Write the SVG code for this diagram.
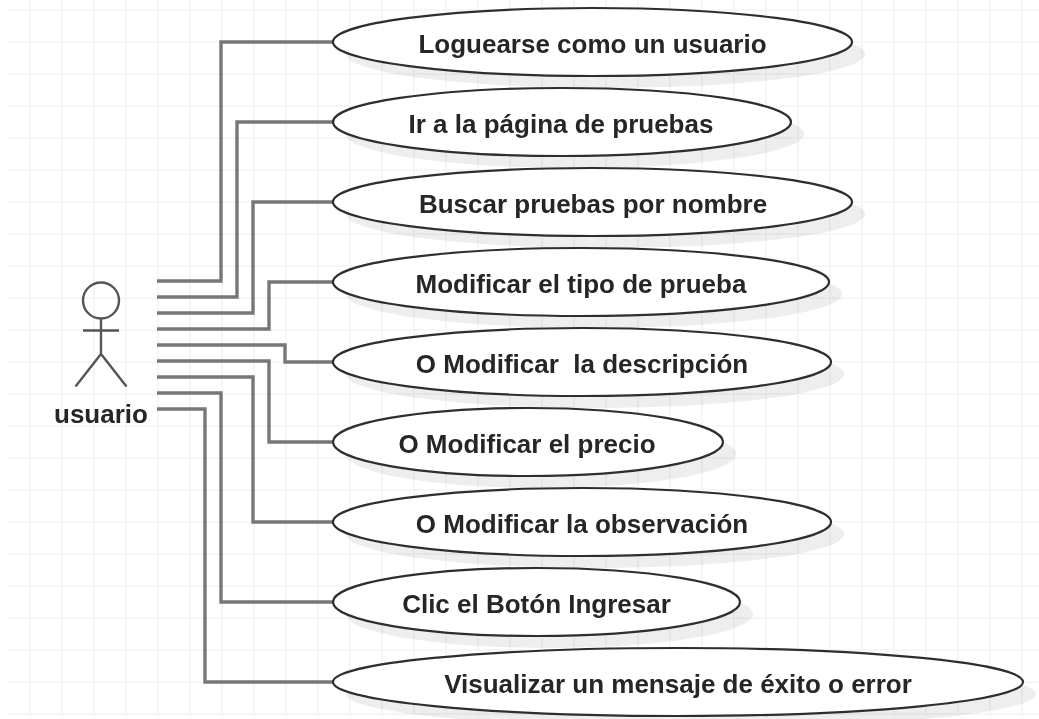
<svg xmlns="http://www.w3.org/2000/svg" width="1039" height="719" viewBox="0 0 1039 719">
<style>
.grid{stroke:#f6f6f6;stroke-width:2;fill:none}
.c{fill:none;stroke:#777777;stroke-width:3.4;stroke-linejoin:miter}
.s{fill:#000000;fill-opacity:.065;stroke:none}
.e{fill:#ffffff;stroke:#2e2e2e;stroke-width:2.2}
.a{fill:none;stroke:#555555;stroke-width:2.4}
.t{font-family:"Liberation Sans",Arial,sans-serif;font-weight:700;font-size:26px;fill:#262626;text-anchor:middle}
</style>
<defs><filter id="soft" x="0" y="0" width="100%" height="100%"><feGaussianBlur stdDeviation="0.45"/></filter></defs>
<rect width="1039" height="719" fill="#ffffff"/>
<g filter="url(#soft)">
<g id="grid"><path class="grid" d="M7 10H1039M7 42H1039M7 74H1039M7 106H1039M7 138H1039M7 170H1039M7 202H1039M7 234H1039M7 266H1039M7 298H1039M7 330H1039M7 362H1039M7 394H1039M7 426H1039M7 458H1039M7 490H1039M7 522H1039M7 554H1039M7 586H1039M7 618H1039M7 650H1039M7 682H1039M7 714H1039M30 0V717M62 0V717M94 0V717M126 0V717M158 0V717M190 0V717M222 0V717M254 0V717M286 0V717M318 0V717M350 0V717M382 0V717M414 0V717M446 0V717M478 0V717M510 0V717M542 0V717M574 0V717M606 0V717M638 0V717M670 0V717M702 0V717M734 0V717M766 0V717M798 0V717M830 0V717M862 0V717M894 0V717M926 0V717M958 0V717M990 0V717M1022 0V717"/></g>
<g id="connectors">
<path class="c" d="M157 281H221V42H334"/>
<path class="c" d="M157 297H237V122H334"/>
<path class="c" d="M157 313H253V202H334"/>
<path class="c" d="M157 329H269V282H334"/>
<path class="c" d="M157 345H285V362H334"/>
<path class="c" d="M157 361H269V442H334"/>
<path class="c" d="M157 377H253V522H334"/>
<path class="c" d="M157 393H221V602H334"/>
<path class="c" d="M157 409H205V682H334"/>
</g>
<g id="actor">
<circle class="a" cx="101" cy="300.500" r="18"/>
<path class="a" d="M101 318.500V354M83 330.500H119M75.500 386.500L101 354L126.500 386.500"/>
<text class="t" x="101" y="423">usuario</text>
</g>
<g id="uc1"><ellipse class="s" cx="605.500" cy="54" rx="259.500" ry="34"/><ellipse class="e" cx="592.500" cy="42" rx="259.500" ry="34"/><text class="t" x="592.500" y="52.500">Loguearse como un usuario</text></g>
<g id="uc2"><ellipse class="s" cx="575" cy="134" rx="229" ry="34"/><ellipse class="e" cx="562" cy="122" rx="229" ry="34"/><text class="t" x="561" y="132.500">Ir a la página de pruebas</text></g>
<g id="uc3"><ellipse class="s" cx="605.500" cy="214" rx="259.500" ry="34"/><ellipse class="e" cx="592.500" cy="202" rx="259.500" ry="34"/><text class="t" x="593" y="212.500">Buscar pruebas por nombre</text></g>
<g id="uc4"><ellipse class="s" cx="594" cy="294" rx="248" ry="34"/><ellipse class="e" cx="581" cy="282" rx="248" ry="34"/><text class="t" x="581" y="292.500">Modificar el tipo de prueba</text></g>
<g id="uc5"><ellipse class="s" cx="595" cy="374" rx="249" ry="34"/><ellipse class="e" cx="582" cy="362" rx="249" ry="34"/><text class="t" x="582" y="372.500" xml:space="preserve">O Modificar  la descripción</text></g>
<g id="uc6"><ellipse class="s" cx="541" cy="454" rx="195" ry="34"/><ellipse class="e" cx="528" cy="442" rx="195" ry="34"/><text class="t" x="527" y="452.500">O Modificar el precio</text></g>
<g id="uc7"><ellipse class="s" cx="595" cy="534" rx="249" ry="34"/><ellipse class="e" cx="582" cy="522" rx="249" ry="34"/><text class="t" x="582" y="532.500">O Modificar la observación</text></g>
<g id="uc8"><ellipse class="s" cx="549.500" cy="614" rx="203.500" ry="34"/><ellipse class="e" cx="536.500" cy="602" rx="203.500" ry="34"/><text class="t" x="536.500" y="612.500">Clic el Botón Ingresar</text></g>
<g id="uc9"><ellipse class="s" cx="691" cy="694" rx="345" ry="34"/><ellipse class="e" cx="678" cy="682" rx="345" ry="34"/><text class="t" x="678" y="692.500">Visualizar un mensaje de éxito o error</text></g>
</g>
</svg>
